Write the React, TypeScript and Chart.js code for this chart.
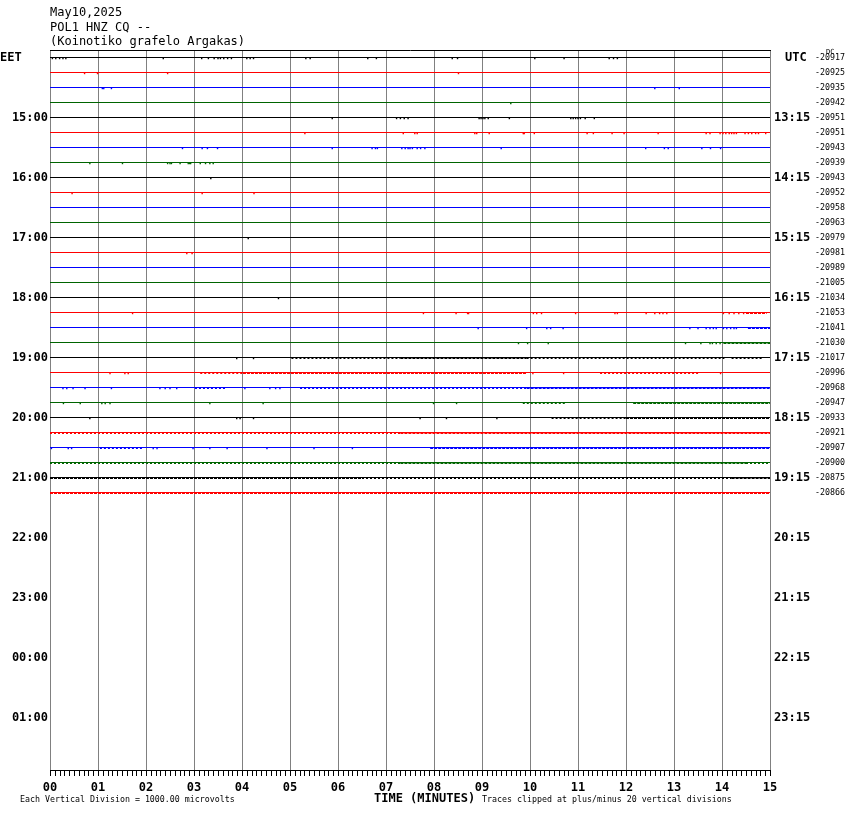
import React, { useEffect, useRef } from "react";
import { Chart, registerables } from "chart.js";

Chart.register(...registerables);

const FONT = "'DejaVu Sans Mono', 'Liberation Mono', monospace";

const headerLines = ["May10,2025", "POL1 HNZ CQ --", "(Koinotiko grafelo Argakas)"];
const minuteLabels = ["00", "01", "02", "03", "04", "05", "06", "07", "08", "09", "10", "11", "12", "13", "14", "15"];
const eetLabels = ["EET", "15:00", "16:00", "17:00", "18:00", "19:00", "20:00", "21:00", "22:00", "23:00", "00:00", "01:00"];
const utcLabels = ["UTC", "13:15", "14:15", "15:15", "16:15", "17:15", "18:15", "19:15", "20:15", "21:15", "22:15", "23:15"];
const traceColors = ["#000000", "#ff0000", "#0000ff", "#006400"];
const dcOffsets = [
  "-20917", "-20925", "-20935", "-20942", "-20951", "-20951", "-20943", "-20939",
  "-20943", "-20952", "-20958", "-20963", "-20979", "-20981", "-20989", "-21005",
  "-21034", "-21053", "-21041", "-21030", "-21017", "-20996", "-20968", "-20947",
  "-20933", "-20921", "-20907", "-20900", "-20875", "-20866",
];
const bottomNoteLeft = "Each Vertical Division = 1000.00 microvolts";
const bottomNoteRight = "Traces clipped at plus/minus 20 vertical divisions";
const axisTitle = "TIME (MINUTES)";

// isolated small excursions (minute positions) per trace
const traceSpikes: number[][] = [
  [0.05, 0.12, 0.2, 0.27, 0.33, 2.36, 3.16, 3.3, 3.42, 3.5, 3.55, 3.62, 3.7, 3.78, 4.1, 4.17, 4.24, 5.33, 5.42, 6.62, 6.8, 8.38, 8.49, 10.1, 10.71, 11.65, 11.74, 11.82],
  [0.72, 0.99, 2.45, 8.51],
  [1.09, 1.12, 1.28, 12.6, 13.11],
  [9.6],
  [5.88, 7.22, 7.3, 7.38, 7.46, 8.94, 8.98, 9.02, 9.06, 9.13, 9.57, 10.85, 10.9, 10.95, 11.0, 11.05, 11.15, 11.34],
  [5.31, 7.36, 7.6, 7.65, 8.85, 8.89, 9.15, 9.86, 9.88, 10.09, 11.19, 11.32, 11.71, 11.96, 12.67, 13.67, 13.75, 13.96, 14.02, 14.08, 14.15, 14.2, 14.25, 14.3, 14.48, 14.55, 14.62, 14.7, 14.76, 14.91],
  [2.76, 3.17, 3.28, 3.49, 5.88, 6.71, 6.78, 6.82, 7.33, 7.4, 7.46, 7.5, 7.55, 7.65, 7.72, 7.81, 9.4, 12.41, 12.8, 12.88, 13.58, 13.76, 13.97],
  [0.83, 1.51, 2.45, 2.5, 2.53, 2.71, 2.88, 2.91, 2.93, 3.13, 3.24, 3.33, 3.4],
  [3.35],
  [0.46, 3.17, 4.25],
  [],
  [],
  [4.13],
  [2.85, 2.96],
  [],
  [],
  [4.76],
  [1.72, 7.78, 8.46, 8.7, 8.72, 10.07, 10.14, 10.24, 10.95, 11.77, 11.82, 12.42, 12.6, 12.7, 12.77, 12.85, 14.03, 14.15, 14.25, 14.35, 14.45],
  [8.92, 9.93, 10.35, 10.43, 10.69, 13.33, 13.5, 13.67, 13.75, 13.82, 13.88, 14.03, 14.1, 14.18, 14.25, 14.3],
  [9.76, 9.95, 10.38, 13.24, 13.56, 13.75, 13.8, 13.88, 13.96],
  [3.89, 4.24],
  [1.25, 1.56, 1.63, 10.06, 10.7, 13.97],
  [0.27, 0.35, 0.48, 0.73, 1.28, 2.29, 2.4, 2.5, 2.64, 4.06, 4.58, 4.7, 4.79],
  [0.28, 0.63, 1.08, 1.15, 1.25, 3.33, 4.44, 7.99, 8.47],
  [0.83, 3.89, 3.96, 4.24, 7.71, 8.26, 9.31],
  [],
  [0.03, 0.38, 0.45, 2.15, 2.23, 2.98, 3.33, 3.69, 4.52, 5.5, 6.3],
  [],
  [],
  [],
];

// stretches of light (sparse) noise per trace [startMin, endMin]
const traceLight: number[][][] = [
  [], [], [], [], [], [], [], [], [], [], [], [], [], [], [], [], [], [], [], [],
  [[5.03, 7.3], [9.93, 14.05], [14.2, 14.85]],
  [[3.13, 4.0], [11.46, 13.54]],
  [[3.02, 3.68], [5.21, 9.93]],
  [[9.85, 10.76]],
  [[10.45, 12.0]],
  [[0, 7.3]],
  [[1.04, 1.94]],
  [[0, 7.3], [14.5, 15]],
  [[6.5, 14.2]],
  [],
];

// stretches of heavy (dense) noise per trace [startMin, endMin]
const traceHeavy: number[][][] = [
  [], [], [], [], [], [], [], [], [], [], [], [], [], [], [], [], [],
  [[14.5, 14.93]],
  [[14.54, 15]],
  [[14.03, 15]],
  [[7.3, 9.93]],
  [[4.02, 9.93]],
  [[9.93, 15]],
  [[12.15, 15]],
  [[12.0, 15]],
  [[7.3, 15]],
  [[7.92, 15]],
  [[7.3, 14.5]],
  [[0, 6.5], [14.2, 15]],
  [[0, 15]],
];

const ROW_PX = 15;

function segData(segs: number[][], row: number, off: number) {
  const out: any[] = [];
  segs.forEach(([a, b]) => {
    out.push({ x: a, y: row + off }, { x: b, y: row + off }, { x: b, y: null });
  });
  return out;
}

function buildDatasets() {
  const ds: any[] = [];
  traceSpikes.forEach((spikes, i) => {
    const color = traceColors[i % 4];
    ds.push({
      data: [{ x: 0, y: i }, { x: 15, y: i }],
      borderColor: color,
      borderWidth: 1,
      pointRadius: 0,
    });
    if (traceLight[i].length) {
      ds.push({
        data: segData(traceLight[i], i, 0.5 / ROW_PX),
        borderColor: color,
        borderWidth: 2,
        borderDash: [2, 2],
        pointRadius: 0,
        spanGaps: false,
      });
    }
    if (traceHeavy[i].length) {
      ds.push({
        data: segData(traceHeavy[i], i, 0.5 / ROW_PX),
        borderColor: color,
        borderWidth: 2,
        borderDash: [3, 1],
        pointRadius: 0,
        spanGaps: false,
      });
    }
    if (spikes.length) {
      ds.push({
        data: spikes.map((m) => ({ x: m, y: i + 1 / ROW_PX })),
        showLine: false,
        pointStyle: "rect",
        pointRadius: 1,
        pointBorderWidth: 0,
        pointBackgroundColor: color,
        borderColor: color,
        backgroundColor: color,
      });
    }
  });
  return ds;
}

const decorPlugin = {
  id: "decor",
  afterDraw(chart: any) {
    const { ctx, chartArea } = chart;
    const xs = chart.scales.x;
    const ys = chart.scales.y;
    ctx.save();
    // top border
    ctx.strokeStyle = "#000";
    ctx.lineWidth = 1;
    ctx.beginPath();
    ctx.moveTo(chartArea.left, chartArea.top + 0.5);
    ctx.lineTo(chartArea.right + 1, chartArea.top + 0.5);
    ctx.stroke();
    // minor ticks
    ctx.beginPath();
    for (let k = 0; k <= 150; k++) {
      if (k % 10 === 0) continue;
      const px = Math.round(xs.getPixelForValue(k / 10)) + 0.5;
      ctx.moveTo(px, chartArea.bottom);
      ctx.lineTo(px, chartArea.bottom + 6);
    }
    ctx.stroke();

    ctx.fillStyle = "#000";
    // header
    ctx.font = `12px ${FONT}`;
    ctx.textAlign = "left";
    ctx.textBaseline = "middle";
    headerLines.forEach((t, i) => ctx.fillText(t, 50, 13 + i * 14.5));

    // left / right time labels
    ctx.font = `bold 12px ${FONT}`;
    eetLabels.forEach((t, i) => {
      const py = ys.getPixelForValue(i * 4) + 0.5;
      if (i === 0) {
        ctx.textAlign = "left";
        ctx.fillText(t, 0, py);
      } else {
        ctx.textAlign = "right";
        ctx.fillText(t, 48, py);
      }
    });
    ctx.textAlign = "left";
    utcLabels.forEach((t, i) => {
      const py = ys.getPixelForValue(i * 4) + 0.5;
      ctx.fillText(t, i === 0 ? 785 : 774, py);
    });

    // DC offsets
    ctx.font = `8.3px ${FONT}`;
    dcOffsets.forEach((t, i) => {
      const py = ys.getPixelForValue(i) + 0.5;
      ctx.fillText(t, 815, py);
    });
    ctx.font = `7px ${FONT}`;
    ctx.fillText("DC", 826, 52);

    // bottom notes
    ctx.font = `8.3px ${FONT}`;
    ctx.fillText(bottomNoteLeft, 20, 800);
    ctx.fillText(bottomNoteRight, 482, 800);
    ctx.font = `bold 12px ${FONT}`;
    ctx.fillText(axisTitle, 374, 799);
    ctx.restore();
  },
};

export default function App() {
  const canvasRef = useRef<HTMLCanvasElement | null>(null);

  useEffect(() => {
    document.body.style.margin = "0";
    const canvas = canvasRef.current;
    if (!canvas) return;
    const chart = new Chart(canvas, {
      type: "line",
      data: { datasets: buildDatasets() },
      options: {
        responsive: false,
        animation: false,
        devicePixelRatio: 1,
        events: [],
        layout: { padding: { top: 50, left: 50, right: 80, bottom: 0 } },
        plugins: { legend: { display: false }, tooltip: { enabled: false } },
        scales: {
          x: {
            type: "linear",
            min: 0,
            max: 15,
            position: "bottom",
            z: 1,
            afterFit: (s: any) => {
              s.height = 44;
            },
            grid: {
              color: "#808080",
              lineWidth: 1,
              drawTicks: true,
              tickLength: 6,
              tickColor: "#000000",
            },
            border: { color: "#000000", width: 1 },
            ticks: {
              stepSize: 1,
              autoSkip: false,
              maxRotation: 0,
              padding: 5,
              color: "#000000",
              font: { family: FONT, size: 12, weight: "bold" },
              callback: (v: any) => minuteLabels[Math.round(Number(v))] ?? "",
            },
          },
          y: {
            type: "linear",
            min: -0.5,
            max: 47.5,
            reverse: true,
            display: false,
          },
        },
      } as any,
      plugins: [decorPlugin],
    });
    return () => chart.destroy();
  }, []);

  return (
    <div style={{ width: 850, height: 814, background: "#fff" }}>
      <canvas ref={canvasRef} width={850} height={814} style={{ display: "block" }} />
    </div>
  );
}
